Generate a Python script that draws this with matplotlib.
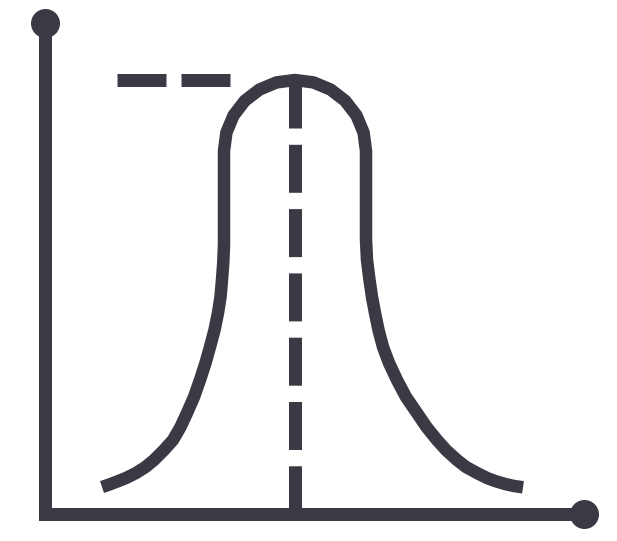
import matplotlib
matplotlib.use("Agg")
import matplotlib.pyplot as plt

# ---- data (pixel-space icon coordinates) ----
axis_x = [45, 45, 584]
axis_y = [23, 514, 514]

dot_x = [45, 584]
dot_y = [23, 514]

left_x = [102, 108, 116, 126, 136, 145.5, 154, 164, 173, 180.5, 187, 194, 200,
          205.5, 210, 214.5, 218, 220.5, 222, 223.3, 224, 224, 224]
left_y = [487, 485, 482, 478, 473, 467, 460, 450, 440, 427, 413, 397, 380,
          363, 347, 330, 313, 297, 280, 262, 245, 200, 151]

arc_x = [226.4, 233.5, 244.8, 259.5, 276.6, 295, 313.4, 330.5, 345.2, 356.5, 363.6]
arc_y = [132.6, 115.5, 100.8, 89.5, 82.4, 80, 82.4, 89.5, 100.8, 115.5, 132.6]

right_x = [366, 366, 366, 367, 369.5, 372, 375, 378.5, 383, 389, 397, 406, 417,
           426.5, 437, 446, 457, 466, 477, 487, 495, 505, 514, 523]
right_y = [151, 200, 240, 260, 280, 297, 313, 330, 347, 363, 380, 397, 413,
           427, 440, 450, 460, 467, 473, 478, 481, 484, 486, 487.3]

curve_x = left_x + arc_x + right_x
curve_y = left_y + arc_y + right_y

peak_x = 295
peak_y = 80
base_y = 514
hdash_x = [117, 230]

W, H = 617, 541
color = "#3a3a44"
px = 72.0 / 100.0  # points per pixel at dpi 100
lw = 13 * px

plt.rcParams['lines.scale_dashes'] = False

fig = plt.figure(figsize=(W / 100, H / 100), dpi=100, facecolor="white")
ax = fig.add_axes([0, 0, 1, 1])
ax.set_xlim(0, W)
ax.set_ylim(H, 0)
ax.axis("off")

# axes of the icon
ax.plot(axis_x, axis_y, color=color, lw=lw, solid_joinstyle="miter",
        solid_capstyle="butt")
ax.plot(dot_x, dot_y, linestyle="none", marker="o", markersize=29 * px,
        markerfacecolor=color, markeredgewidth=0)

# bell curve
ax.plot(curve_x, curve_y, color=color, lw=12.5 * px, solid_joinstyle="round",
        solid_capstyle="butt")

# dashed lines
ax.plot([peak_x, peak_x], [peak_y, base_y], color=color, lw=lw,
        dashes=(48 * px, 16.3 * px), dash_capstyle="butt")
ax.plot(hdash_x, [peak_y, peak_y], color=color, lw=lw,
        dashes=(49 * px, 15 * px), dash_capstyle="butt")

fig.savefig("out.png", dpi=100, facecolor="white")
